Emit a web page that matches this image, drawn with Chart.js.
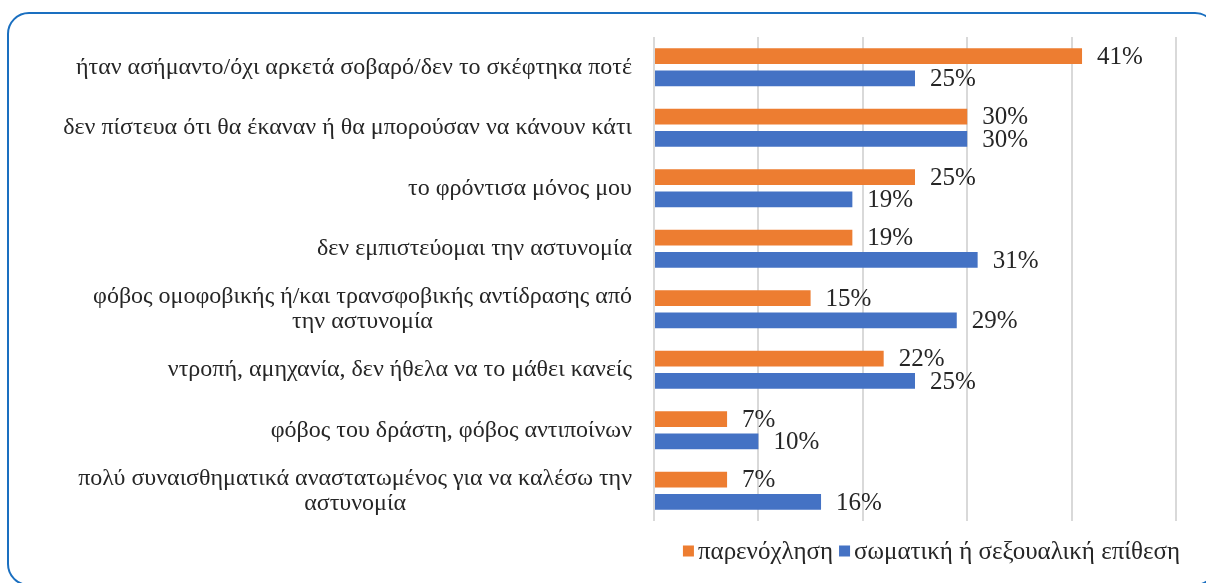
<!DOCTYPE html>
<html>
<head>
<meta charset="utf-8">
<script src="https://cdn.jsdelivr.net/npm/chart.js@4.4.1/dist/chart.umd.min.js"></script>
<style>
  html, body { margin: 0; padding: 0; background: #fff; overflow: hidden; }
  #wrap { position: relative; width: 1206px; height: 583px; }
  #frame {
    position: absolute; left: 7px; top: 12px; width: 1210px; height: 574px;
    border: 2px solid #1a6fc0; border-radius: 22px; box-sizing: border-box;
  }
  canvas { position: absolute; left: 0; top: 0; }
</style>
</head>
<body>
<div id="wrap">
  <div id="frame"></div>
  <canvas id="chart" width="1206" height="583"></canvas>
</div>
<script>
// κατηγορίες (μία γραμμή ή δύο γραμμές ανά ετικέτα)
const LOGOI = [
  ['ήταν ασήμαντο/όχι αρκετά σοβαρό/δεν το σκέφτηκα ποτέ'],
  ['δεν πίστευα ότι θα έκαναν ή θα μπορούσαν να κάνουν κάτι'],
  ['το φρόντισα μόνος μου'],
  ['δεν εμπιστεύομαι την αστυνομία'],
  ['φόβος ομοφοβικής ή/και τρανσφοβικής αντίδρασης από', 'την αστυνομία'],
  ['ντροπή, αμηχανία, δεν ήθελα να το μάθει κανείς'],
  ['φόβος του δράστη, φόβος αντιποίνων'],
  ['πολύ συναισθηματικά αναστατωμένος για να καλέσω την', 'αστυνομία']
];
const PARENOXLISI = [41, 30, 25, 19, 15, 22, 7, 7];
const EPITHESI = [25, 30, 19, 31, 29, 25, 10, 16];
const SEIRES = ['παρενόχληση', 'σωματική ή σεξουαλική επίθεση'];
const X_TICKS = [0, 10, 20, 30, 40, 50];

const FONT = '"Liberation Serif", "Times New Roman", serif';
const KEIMENO = '#262626';

// ετικέτες κατηγοριών: μπλοκ δεξιά στοιχισμένο, γραμμές κεντραρισμένες μεταξύ τους
const etiketesY = {
  id: 'etiketesY',
  afterDraw(chart) {
    const { ctx, chartArea, scales } = chart;
    ctx.save();
    ctx.font = '24px ' + FONT;
    ctx.fillStyle = KEIMENO;
    ctx.textAlign = 'center';
    ctx.textBaseline = 'middle';
    const lh = 25;
    LOGOI.forEach((lines, i) => {
      const y = scales.y.getPixelForValue(i);
      const maxW = Math.max(...lines.map(l => ctx.measureText(l).width));
      const cx = chartArea.left - 22 - maxW / 2;
      const y0 = y - (lines.length - 1) * lh / 2;
      lines.forEach((l, k) => ctx.fillText(l, cx, y0 + k * lh));
    });
    ctx.restore();
  }
};

// τιμές δίπλα στις μπάρες
const times = {
  id: 'times',
  afterDatasetsDraw(chart) {
    const { ctx } = chart;
    ctx.save();
    ctx.font = '25px ' + FONT;
    ctx.fillStyle = KEIMENO;
    ctx.textAlign = 'left';
    ctx.textBaseline = 'middle';
    chart.data.datasets.forEach((ds, di) => {
      chart.getDatasetMeta(di).data.forEach((bar, i) => {
        ctx.fillText(ds.data[i] + '%', bar.x + 15, bar.y + 1);
      });
    });
    ctx.restore();
  }
};

// υπόμνημα κάτω δεξιά, σφιχτό όπως στο Excel
const ypomnima = {
  id: 'ypomnima',
  afterDraw(chart) {
    const { ctx } = chart;
    ctx.save();
    ctx.font = '25px ' + FONT;
    ctx.textBaseline = 'middle';
    ctx.textAlign = 'left';
    const y = 551, box = 11;
    const items = chart.data.datasets.map(ds => ({ t: ds.label, c: ds.backgroundColor, w: ctx.measureText(ds.label).width }));
    const total = items.reduce((s, it) => s + box + 4 + it.w, 0) + 6 * (items.length - 1);
    let x = 1180 - total;
    items.forEach(it => {
      ctx.fillStyle = it.c;
      ctx.fillRect(x, y - box / 2, box, box);
      x += box + 4;
      ctx.fillStyle = KEIMENO;
      ctx.fillText(it.t, x, y + 1);
      x += it.w + 6;
    });
    ctx.restore();
  }
};

new Chart(document.getElementById('chart'), {
  type: 'bar',
  data: {
    labels: LOGOI.map(l => l.join(' ')),
    datasets: [
      { label: SEIRES[0], data: PARENOXLISI, backgroundColor: '#ED7D31' },
      { label: SEIRES[1], data: EPITHESI, backgroundColor: '#4472C4' }
    ]
  },
  options: {
    indexAxis: 'y',
    responsive: false,
    animation: false,
    categoryPercentage: 0.74,
    barPercentage: 0.7,
    layout: { padding: { left: 654, right: 30, top: 37, bottom: 62 } },
    plugins: {
      tooltip: { enabled: false },
      legend: { display: false }
    },
    scales: {
      x: {
        min: 0, max: 50,
        afterBuildTicks: s => { s.ticks = X_TICKS.map(v => ({ value: v })); },
        afterFit: s => { s.height = 0; },
        ticks: { display: false },
        border: { display: false },
        grid: { color: '#d9d9d9', lineWidth: 2, drawTicks: false }
      },
      y: { display: false }
    }
  },
  plugins: [etiketesY, times, ypomnima]
});
</script>
</body>
</html>
